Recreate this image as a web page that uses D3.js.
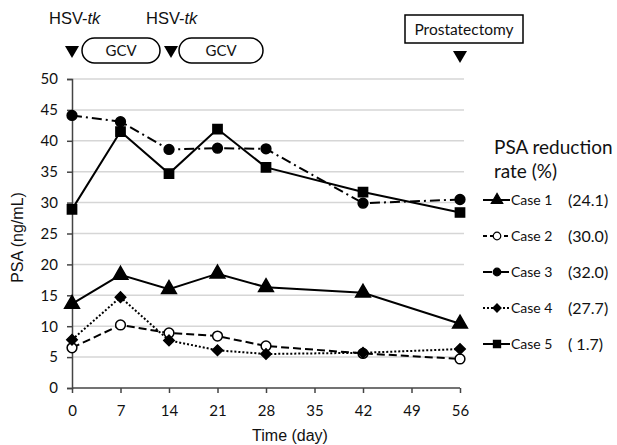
<!DOCTYPE html>
<html>
<head>
<meta charset="utf-8">
<script src="https://cdn.jsdelivr.net/npm/d3@7"></script>
<style>
  body { margin: 0; background: #fff; }
  svg text { fill: #111; }
</style>
</head>
<body>
<div id="chart"></div>
<script>
// data
const days = [0, 7, 14, 21, 28, 42, 56];
const case1 = [13.6, 18.3, 16.0, 18.5, 16.3, 15.4, 10.4];
const case2 = [6.5, 10.2, 8.9, 8.4, 6.8, 5.6, 4.7];
const case3 = [44.1, 43.1, 38.6, 38.8, 38.7, 29.9, 30.5];
const case4 = [7.8, 14.7, 7.7, 6.1, 5.5, 5.7, 6.3];
const case5 = [28.9, 41.5, 34.7, 41.9, 35.7, 31.7, 28.4];
const caseNames = ['Case 1', 'Case 2', 'Case 3', 'Case 4', 'Case 5'];
const reductionRates = ['(24.1)', '(30.0)', '(32.0)', '(27.7)', '( 1.7)'];
const xTicks = [0, 7, 14, 21, 28, 35, 42, 49, 56];
const yTicks = [0, 5, 10, 15, 20, 25, 30, 35, 40, 45, 50];
const vectorDays = [0, 14];
const surgeryDay = 56;

const width = 617, height = 445;
const margin = {top: 79, right: 157, bottom: 57, left: 72};

const svg = d3.select('#chart')
    .append('svg')
    .attr('width', width)
    .attr('height', height)
;

const x = d3.scaleLinear()
    .domain([0, 56])
    .range([margin.left, width - margin.right])
;
const y = d3.scaleLinear()
    .domain([0, 50])
    .range([height - margin.bottom, margin.top])
;

// horizontal grid
svg.append('g')
    .selectAll('line')
    .data(yTicks.filter(t => t > 0))
    .enter()
    .append('line')
    .attr('x1', x(0))
    .attr('x2', x(56) + 4)
    .attr('y1', d => y(d))
    .attr('y2', d => y(d))
    .attr('stroke', '#d6d6d6')
    .attr('stroke-width', 1.5)
;

// axes
const yAxis = svg.append('g')
    .attr('transform', `translate(${x(0)},0)`)
    .call(d3.axisLeft(y).tickValues(yTicks).tickSize(5).tickPadding(9))
;
const xAxis = svg.append('g')
    .attr('transform', `translate(0,${y(0)})`)
    .call(d3.axisBottom(x).tickValues(xTicks).tickSize(5).tickPadding(12))
;
[xAxis, yAxis].forEach(a => {
    a.select('.domain').attr('stroke', '#444').attr('stroke-width', 1.5);
    a.selectAll('.tick line').attr('stroke', '#444').attr('stroke-width', 1.5);
    a.selectAll('.tick text')
        .style('font-family', 'Lato, "Open Sans", sans-serif')
        .style('font-size', '15px')
        .attr('fill', '#222')
    ;
});
xAxis.select('.domain').attr('d', `M${x(0)},0H${x(56)}`);

// axis titles
svg.append('text')
    .attr('x', 290)
    .attr('y', 441)
    .attr('text-anchor', 'middle')
    .style('font-family', '"Liberation Sans", Arial, sans-serif')
    .style('font-size', '16px')
    .text('Time (day)')
;
svg.append('text')
    .attr('transform', `translate(23,${y(25) + 4}) rotate(-90)`)
    .attr('text-anchor', 'middle')
    .style('font-family', '"Liberation Sans", Arial, sans-serif')
    .style('font-size', '16px')
    .text('PSA (ng/mL)')
;

// series setup
const series = [
    {name: caseNames[0], values: case1, dash: null, legendDash: null, marker: 'triangle', fill: '#000'},
    {name: caseNames[1], values: case2, dash: '8,4', legendDash: '4,3', marker: 'circle', fill: '#fff'},
    {name: caseNames[2], values: case3, dash: '10,4,2,4', legendDash: '9,3,2,3', marker: 'circle', fill: '#000'},
    {name: caseNames[3], values: case4, dash: '2,2', legendDash: '2,2', marker: 'diamond', fill: '#000'},
    {name: caseNames[4], values: case5, dash: null, legendDash: null, marker: 'square', fill: '#000'}
];
const symbolSize = {triangle: 95, circle: 75, diamond: 55, square: 85};
const symbolType = {
    triangle: d3.symbolTriangle,
    circle: d3.symbolCircle,
    diamond: d3.symbolSquare,
    square: d3.symbolSquare
};
const symbolRotate = {triangle: 0, circle: 0, diamond: 45, square: 0};

const line = d3.line()
    .x((d, i) => x(days[i]))
    .y(d => y(d))
;

series.forEach(s => {
    svg.append('path')
        .datum(s.values)
        .attr('d', line)
        .attr('fill', 'none')
        .attr('stroke', '#000')
        .attr('stroke-width', 2)
        .attr('stroke-dasharray', s.dash)
    ;
});
series.forEach(s => {
    svg.append('g')
        .selectAll('path')
        .data(s.values)
        .enter()
        .append('path')
        .attr('d', d3.symbol().type(symbolType[s.marker]).size(symbolSize[s.marker]))
        .attr('transform', (d, i) => `translate(${x(days[i])},${y(d)}) rotate(${symbolRotate[s.marker]})`)
        .attr('fill', s.fill)
        .attr('stroke', '#000')
        .attr('stroke-width', 1.5)
    ;
});

// legend
const legend = svg.append('g')
    .style('font-family', 'Lato, "Open Sans", sans-serif')
;
legend.append('text')
    .attr('x', 494)
    .attr('y', 154)
    .style('font-size', '19px')
    .text('PSA reduction')
;
legend.append('text')
    .attr('x', 494)
    .attr('y', 178)
    .style('font-size', '19px')
    .text('rate (%)')
;
series.forEach((s, i) => {
    let ly = 200 + i * 36;
    let g = legend.append('g').attr('transform', `translate(0,${ly})`);
    g.append('line')
        .attr('x1', 483)
        .attr('x2', 510)
        .attr('stroke', '#000')
        .attr('stroke-width', 2)
        .attr('stroke-dasharray', s.legendDash)
    ;
    g.append('path')
        .attr('d', d3.symbol().type(symbolType[s.marker]).size(symbolSize[s.marker] * 0.6))
        .attr('transform', `translate(497,0) rotate(${symbolRotate[s.marker]})`)
        .attr('fill', s.fill)
        .attr('stroke', '#000')
        .attr('stroke-width', 1.2)
    ;
    g.append('text')
        .attr('x', 511)
        .attr('y', 5)
        .style('font-size', '14px')
        .text(s.name)
    ;
    g.append('text')
        .attr('x', 568)
        .attr('y', 5.5)
        .style('font-size', '16px')
        .text(reductionRates[i])
    ;
});

// treatment annotations at the top
const annot = svg.append('g')
    .style('font-family', '"Liberation Sans", Arial, sans-serif')
;
vectorDays.forEach((d, i) => {
    let lab = annot.append('text')
        .attr('x', x(d) - 23)
        .attr('y', 24)
        .style('font-size', '16.5px')
    ;
    lab.append('tspan').text('HSV-');
    lab.append('tspan').style('font-style', 'italic').text('tk');

    annot.append('path')
        .attr('d', d3.symbol().type(d3.symbolTriangle).size(85))
        .attr('transform', `translate(${x(d) + (i ? 2 : 0)},50) rotate(180)`)
        .attr('fill', '#000')
    ;
    let bx = x(d) + 10;
    let bw = i ? 84 : 78;
    annot.append('rect')
        .attr('x', bx)
        .attr('y', 38)
        .attr('width', bw)
        .attr('height', 25)
        .attr('rx', 12.5)
        .attr('fill', '#fff')
        .attr('stroke', '#000')
        .attr('stroke-width', 1.5)
    ;
    annot.append('text')
        .attr('x', bx + bw / 2)
        .attr('y', 56)
        .attr('text-anchor', 'middle')
        .style('font-family', 'Lato, "Open Sans", sans-serif')
        .style('font-size', '15px')
        .text('GCV')
    ;
});
annot.append('rect')
    .attr('x', 405)
    .attr('y', 15)
    .attr('width', 118)
    .attr('height', 28)
    .attr('fill', '#fff')
    .attr('stroke', '#000')
    .attr('stroke-width', 1.5)
;
annot.append('text')
    .attr('x', 464)
    .attr('y', 35)
    .attr('text-anchor', 'middle')
    .style('font-family', 'Lato, "Open Sans", sans-serif')
    .style('font-size', '15.5px')
    .text('Prostatectomy')
;
annot.append('path')
    .attr('d', d3.symbol().type(d3.symbolTriangle).size(85))
    .attr('transform', `translate(${x(surgeryDay)},55) rotate(180)`)
    .attr('fill', '#000')
;
</script>
</body>
</html>
